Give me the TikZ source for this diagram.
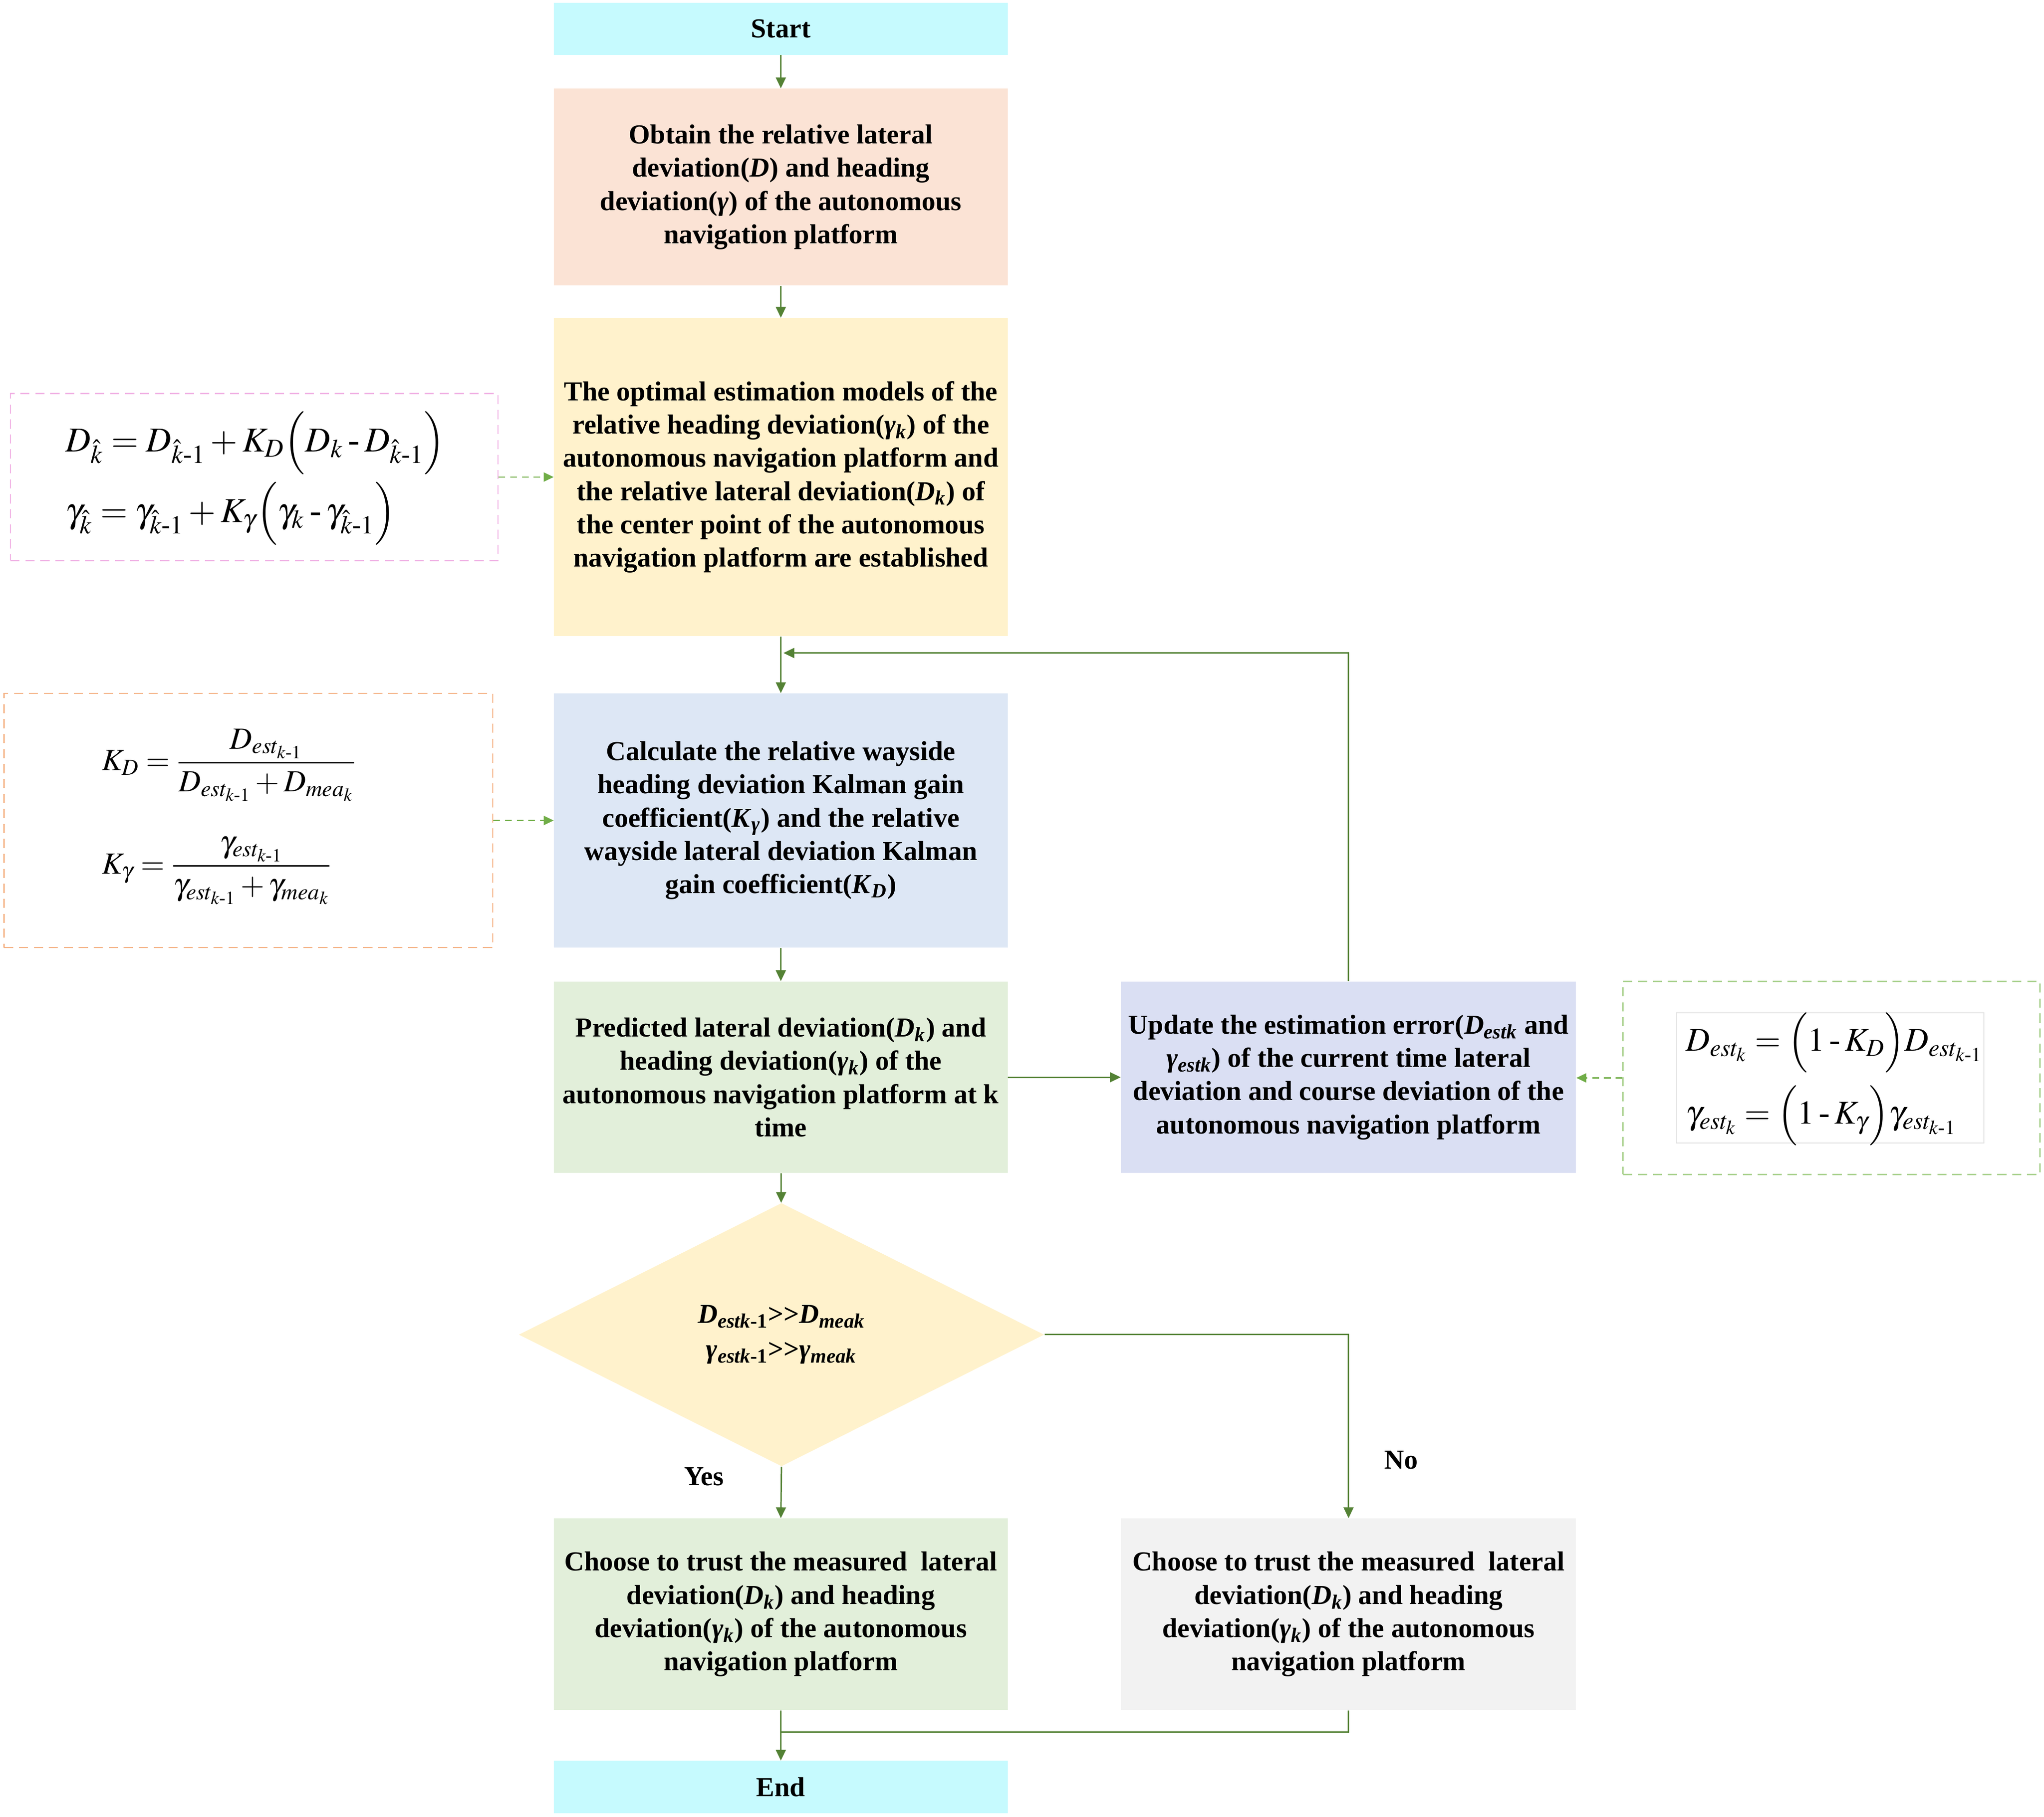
\documentclass[tikz,border=0pt]{standalone}
\usepackage{amsmath}
\usepackage{mathptmx}
\usepackage{fontspec}
\setmainfont{Liberation Serif}
\usetikzlibrary{shapes.geometric,arrows.meta,calc}
\definecolor{cStart}{HTML}{C6FAFE}
\definecolor{cObt}{HTML}{FBE3D5}
\definecolor{cOpt}{HTML}{FFF2CC}
\definecolor{cCalc}{HTML}{DDE7F5}
\definecolor{cGreen}{HTML}{E2EFDA}
\definecolor{cUpd}{HTML}{DADFF3}
\definecolor{cGray}{HTML}{F2F2F2}
\definecolor{cLine}{HTML}{548235}
\definecolor{cPink}{HTML}{F0B0E4}
\definecolor{cOrange}{HTML}{F4B183}
\definecolor{cDGreen}{HTML}{A9D18E}
\definecolor{cDash}{HTML}{70AD47}
\def\pxu{0.02754cm}
\newcommand\sbi[1]{\textsubscript{\textit{#1}}}
\newcommand\hy{\mathbin{\text{-}}}
\newcommand\gtgt{\textup{>\kern0pt>}}
\begin{document}
\begin{tikzpicture}[x=0.02754cm,y=-0.02754cm,
  box/.style={rectangle, inner sep=0pt, align=center,
    font=\fontsize{16.5}{20}\selectfont\bfseries},
  flow/.style={draw=cLine, line width=0.85pt, -{Triangle[length=6.5pt,width=6pt]}},
  plain/.style={draw=cLine, line width=0.85pt},
  dflow/.style={draw=cDash, line width=0.8pt, dash pattern=on 4pt off 3pt,
    -{Triangle[length=6pt,width=5.5pt]}},
  fbox/.style={rectangle, inner sep=0pt, line width=0.8pt, dash pattern=on 5.5pt off 3.5pt},
  fml/.style={inner sep=0pt, font=\fontsize{21}{25}\selectfont},
  lbl/.style={inner sep=0pt, font=\fontsize{16.5}{20}\selectfont\bfseries}]
\useasboundingbox (0,0) rectangle (1568,1393.7);

% main column
\node[box, fill=cStart, minimum width=348*\pxu, minimum height=40*\pxu] (start) at (599,22) {Start};
\node[box, fill=cObt, minimum width=348*\pxu, minimum height=151*\pxu] (obtain) at (599,143.5)
 {Obtain the relative lateral\\ deviation(\textit{D}) and heading\\ deviation(\textit{γ}) of the autonomous\\ navigation platform};
\node[box, fill=cOpt, minimum width=348*\pxu, minimum height=244*\pxu] (optimal) at (599,366)
 {The optimal estimation models of the\\ relative heading deviation(\textit{γ}\sbi{k}) of the\\ autonomous navigation platform and\\ the relative lateral deviation(\textit{D}\sbi{k}) of\\ the center point of the autonomous\\ navigation platform are established};
\node[box, fill=cCalc, minimum width=348*\pxu, minimum height=195*\pxu] (calc) at (599,629.5)
 {Calculate the relative wayside\\ heading deviation Kalman gain\\ coefficient(\textit{K}\sbi{γ}) and the relative\\ wayside lateral deviation Kalman\\ gain coefficient(\textit{K}\sbi{D})};
\node[box, fill=cGreen, minimum width=348*\pxu, minimum height=147*\pxu] (pred) at (599,826.5)
 {Predicted lateral deviation(\textit{D}\sbi{k}) and\\ heading deviation(\textit{γ}\sbi{k}) of the\\ autonomous navigation platform at k\\ time};
\node[box, fill=cUpd, minimum width=349*\pxu, minimum height=147*\pxu] (update) at (1034.5,826.5)
 {Update the estimation error(\textit{D}\sbi{estk} and\\ \textit{γ}\sbi{estk}) of the current time lateral\\ deviation and course deviation of the\\ autonomous navigation platform};
\node[diamond, aspect=2, inner sep=0pt, fill=cOpt, minimum width=403*\pxu, minimum height=202*\pxu,
  align=center, font=\fontsize{16.5}{21}\selectfont\bfseries\itshape] (dec) at (599.5,1024)
 {D\textsubscript{estk\textup{-1}}\gtgt D\textsubscript{meak}\\ γ\textsubscript{estk\textup{-1}}\gtgt γ\textsubscript{meak}};
\node[box, fill=cGreen, minimum width=348*\pxu, minimum height=147*\pxu] (chooseL) at (599,1238.5)
 {Choose to trust the measured\ \ lateral\\ deviation(\textit{D}\sbi{k}) and heading\\ deviation(\textit{γ}\sbi{k}) of the autonomous\\ navigation platform};
\node[box, fill=cGray, minimum width=349*\pxu, minimum height=147*\pxu] (chooseR) at (1034.5,1238.5)
 {Choose to trust the measured\ \ lateral\\ deviation(\textit{D}\sbi{k}) and heading\\ deviation(\textit{γ}\sbi{k}) of the autonomous\\ navigation platform};
\node[box, fill=cStart, minimum width=348*\pxu, minimum height=40*\pxu] (end) at (599,1371) {End};

% formula boxes
\node[fbox, draw=cPink, minimum width=374*\pxu, minimum height=128*\pxu] (f1) at (195,366) {};
\node[fml, anchor=west] (f1a) at (50,340)
 {$D_{\hat{k}} = D_{\hat{k}\hy 1} + K_D\Bigl(D_k \hy D_{\hat{k}\hy 1}\Bigr)$};
\node[fml, anchor=west] (f1b) at (50,394)
 {$\gamma_{\hat{k}} = \gamma_{\hat{k}\hy 1} + K_\gamma\Bigl(\gamma_k \hy \gamma_{\hat{k}\hy 1}\Bigr)$};

\node[fbox, draw=cOrange, minimum width=375*\pxu, minimum height=195*\pxu] (f2) at (190.5,629.5) {};
\node[fml, anchor=west, font=\fontsize{18.5}{22}\selectfont] (f2a) at (78,587)
 {$K_D = \dfrac{D_{est_{k\hy 1}}}{D_{est_{k\hy 1}} + D_{mea_k}}$};
\node[fml, anchor=west, font=\fontsize{18.5}{22}\selectfont] (f2b) at (78,668)
 {$K_\gamma = \dfrac{\gamma_{est_{k\hy 1}}}{\gamma_{est_{k\hy 1}} + \gamma_{mea_k}}$};

\node[fbox, draw=cDGreen, minimum width=320*\pxu, minimum height=148*\pxu] (f3) at (1405,827) {};
\node[rectangle, inner sep=0pt, draw=black!12, line width=0.5pt, minimum width=236*\pxu, minimum height=100*\pxu] (f3box) at (1404,827) {};
\node[fml, anchor=west, font=\fontsize{20}{24}\selectfont] (f3a) at (1293,800)
 {$D_{est_k} = \Bigl(1 \hy K_D\Bigr) D_{est_{k\hy 1}}$};
\node[fml, anchor=west, font=\fontsize{20}{24}\selectfont] (f3b) at (1293,856)
 {$\gamma_{est_k} = \Bigl(1 \hy K_\gamma\Bigr) \gamma_{est_{k\hy 1}}$};

% connectors
\draw[flow] (start) -- (obtain);
\draw[flow] (obtain) -- (optimal);
\draw[flow] (optimal) -- (calc);
\draw[flow] (calc) -- (pred);
\draw[flow] (pred) -- (dec);
\draw[flow] (dec.south) -- (chooseL.north);
\draw[flow] (dec.east) -| (chooseR.north);
\draw[flow] (pred.east) -- (update.west);
\coordinate (loopin) at (601,501);
\draw[flow] (update.north) |- (loopin);
\draw[flow] (chooseL) -- (end);
\coordinate (join) at (599,1329);
\draw[plain] (chooseR.south) |- (join);

\draw[dflow] (f1.east) -- (f1.east -| optimal.west);
\draw[dflow] (f2.east) -- (f2.east -| calc.west);
\draw[dflow] (f3.west) -- (f3.west -| update.east);

\node[lbl] (yes) at (540,1133) {Yes};
\node[lbl] (no) at (1075,1120) {No};
\end{tikzpicture}
\end{document}
